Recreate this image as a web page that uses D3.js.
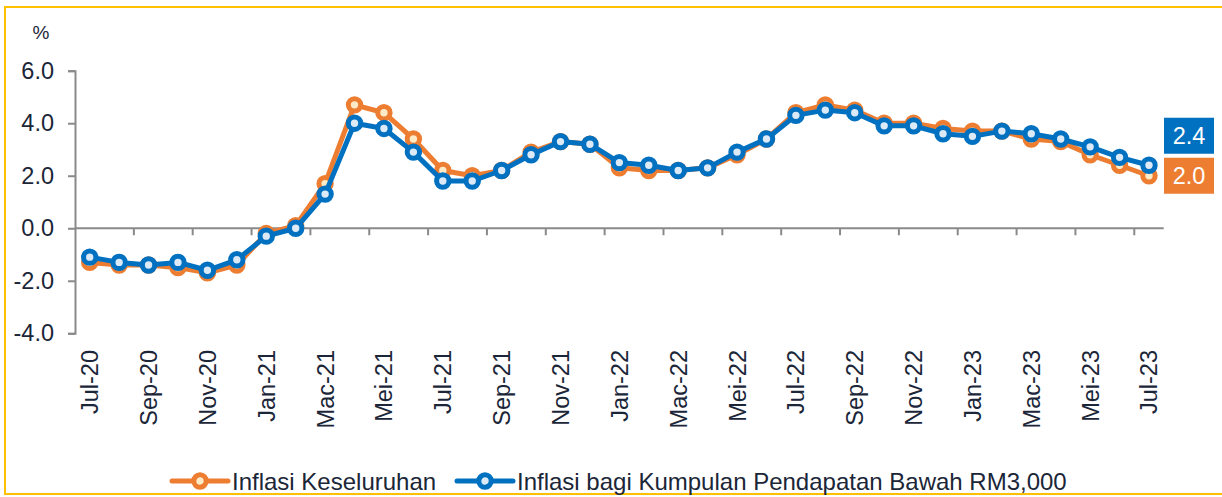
<!DOCTYPE html>
<html>
<head>
<meta charset="utf-8">
<script src="https://cdn.jsdelivr.net/npm/d3@7/dist/d3.min.js"></script>
<style>
  body { margin: 0; background: #fff; }
  svg { display: block; font-family: "Liberation Sans", Arial, sans-serif; }
</style>
</head>
<body>
<div id="chart"></div>
<script>
const months = ['Jul-20','Ogo-20','Sep-20','Okt-20','Nov-20','Dis-20',
    'Jan-21','Feb-21','Mac-21','Apr-21','Mei-21','Jun-21','Jul-21','Ogo-21','Sep-21','Okt-21','Nov-21','Dis-21',
    'Jan-22','Feb-22','Mac-22','Apr-22','Mei-22','Jun-22','Jul-22','Ogo-22','Sep-22','Okt-22','Nov-22','Dis-22',
    'Jan-23','Feb-23','Mac-23','Apr-23','Mei-23','Jun-23','Jul-23'];

const headline = [-1.3,-1.4,-1.4,-1.5,-1.7,-1.4,
    -0.2,0.1,1.7,4.7,4.4,3.4,2.2,2.0,2.2,2.9,3.3,3.2,
    2.3,2.2,2.2,2.3,2.8,3.4,4.4,4.7,4.5,4.0,4.0,3.8,
    3.7,3.7,3.4,3.3,2.8,2.4,2.0];

const lowIncome = [-1.1,-1.3,-1.4,-1.3,-1.6,-1.2,
    -0.3,0.0,1.3,4.0,3.8,2.9,1.8,1.8,2.2,2.8,3.3,3.2,
    2.5,2.4,2.2,2.3,2.9,3.4,4.3,4.5,4.4,3.9,3.9,3.6,
    3.5,3.7,3.6,3.4,3.1,2.7,2.4];

const yTicks = [-4, -2, 0, 2, 4, 6];
const seriesNames = ['Inflasi Keseluruhan', 'Inflasi bagi Kumpulan Pendapatan Bawah RM3,000'];

const w = 1222, h = 497;
const textColor = '#1b2638';
const axisColor = '#8a8a8a';
const orange = '#ed7d31', blue = '#0070c0';
const orangeFill = '#fdebc8', blueFill = '#dce9f6';
const fontSize = 23.5;

const svg = d3.select('#chart').append('svg')
    .attr('width', w)
    .attr('height', h);

// frame
svg.append('rect')
    .attr('x', 5).attr('y', 7)
    .attr('width', 1222).attr('height', 487)
    .attr('fill', 'none')
    .attr('stroke', '#ffc000')
    .attr('stroke-width', 2);

// scales
const xScale = d3.scaleBand()
    .domain(months)
    .range([75, 1163.7]);
const bw = xScale.bandwidth();
const cx = m => xScale(m) + bw / 2;

const yScale = d3.scaleLinear()
    .domain([-4, 6])
    .range([333.3, 70.7]);

// y axis
const yAxis = d3.axisLeft(yScale)
    .tickValues(yTicks)
    .tickSize(7)
    .tickPadding(14)
    .tickFormat(d3.format('.1f'));

const gy = svg.append('g')
    .attr('transform', 'translate(75,0)')
    .call(yAxis);
gy.select('.domain').attr('stroke', axisColor).attr('stroke-width', 2);
gy.selectAll('.tick line').attr('stroke', axisColor).attr('stroke-width', 2);
gy.selectAll('.tick text')
    .attr('fill', textColor)
    .style('font-size', fontSize + 'px')
    .style('font-family', '"Liberation Sans", Arial, sans-serif')
    .text(d => d3.format('.1f')(d).replace('−', '-'));

svg.append('text')
    .attr('x', 41).attr('y', 39)
    .attr('text-anchor', 'middle')
    .attr('fill', textColor)
    .style('font-size', '19px')
    .text('%');

// x axis line at zero with ticks between every 2nd category
const y0 = yScale(0);
svg.append('line')
    .attr('x1', 75).attr('x2', 1163.7)
    .attr('y1', y0).attr('y2', y0)
    .attr('stroke', axisColor).attr('stroke-width', 2);

svg.selectAll('.xtick')
    .data(months.filter((m, i) => i > 0 && i % 2 === 0))
    .enter()
    .append('line')
    .attr('class', 'xtick')
    .attr('x1', d => xScale(d)).attr('x2', d => xScale(d))
    .attr('y1', y0).attr('y2', y0 + 7)
    .attr('stroke', axisColor).attr('stroke-width', 2);

// x labels, rotated
svg.selectAll('.xlabel')
    .data(months.filter((m, i) => i % 2 === 0))
    .enter()
    .append('text')
    .attr('class', 'xlabel')
    .attr('transform', d => `translate(${cx(d)},350) rotate(-90)`)
    .attr('text-anchor', 'end')
    .attr('dy', '0.36em')
    .attr('fill', textColor)
    .style('font-size', fontSize + 'px')
    .text(d => d);

// series
const line = d3.line()
    .x((d, i) => cx(months[i]))
    .y(d => yScale(d));

function drawSeries(values, color, fill) {
    svg.append('path')
        .datum(values)
        .attr('d', line)
        .attr('fill', 'none')
        .attr('stroke', color)
        .attr('stroke-width', 5)
        .attr('stroke-linejoin', 'round');
    svg.append('g')
        .selectAll('circle')
        .data(values)
        .enter()
        .append('circle')
        .attr('cx', (d, i) => cx(months[i]))
        .attr('cy', d => yScale(d))
        .attr('r', 6.2)
        .attr('fill', fill)
        .attr('stroke', color)
        .attr('stroke-width', 5);
}

drawSeries(headline, orange, orangeFill);
drawSeries(lowIncome, blue, blueFill);

// end labels
const lastO = headline[headline.length - 1];
const lastB = lowIncome[lowIncome.length - 1];
const boxW = 50, boxH = 36;
const oTop = yScale(lastO) - boxH / 2;
const bTop = oTop - 4 - boxH;

const endLabels = [
    { v: lastB, top: bTop, color: blue },
    { v: lastO, top: oTop, color: orange }
];

const el = svg.selectAll('.endlabel')
    .data(endLabels)
    .enter()
    .append('g')
    .attr('class', 'endlabel');
el.append('rect')
    .attr('x', 1164).attr('y', d => d.top)
    .attr('width', boxW).attr('height', boxH)
    .attr('fill', d => d.color);
el.append('text')
    .attr('x', 1164 + boxW / 2)
    .attr('y', d => d.top + boxH / 2)
    .attr('dy', '0.36em')
    .attr('text-anchor', 'middle')
    .attr('fill', '#fff')
    .style('font-size', fontSize + 'px')
    .text(d => d3.format('.1f')(d.v));

// legend
const legendItems = [
    { name: seriesNames[0], color: orange, fill: orangeFill, x: 172 },
    { name: seriesNames[1], color: blue, fill: blueFill, x: 457 }
];
const ly = 481;
const lg = svg.selectAll('.legend')
    .data(legendItems)
    .enter()
    .append('g')
    .attr('class', 'legend')
    .attr('transform', d => `translate(${d.x},${ly})`);
lg.append('line')
    .attr('x1', 0).attr('x2', 56)
    .attr('stroke', d => d.color)
    .attr('stroke-width', 5)
    .attr('stroke-linecap', 'round');
lg.append('circle')
    .attr('cx', 28).attr('r', 6.2)
    .attr('fill', d => d.fill)
    .attr('stroke', d => d.color)
    .attr('stroke-width', 5);
lg.append('text')
    .attr('x', 60)
    .attr('dy', '0.36em')
    .attr('fill', textColor)
    .style('font-size', '24px')
    .text(d => d.name);
</script>
</body>
</html>
